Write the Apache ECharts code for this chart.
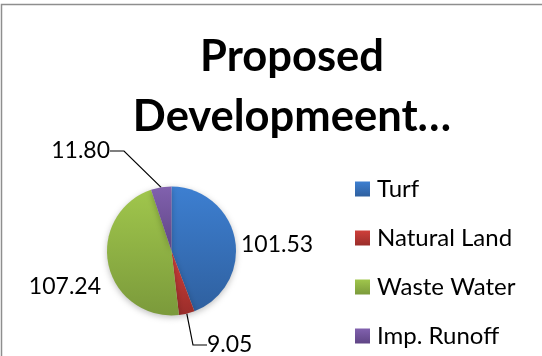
<!DOCTYPE html>
<html>
<head>
<meta charset="utf-8">
<script src="https://cdn.jsdelivr.net/npm/echarts@6/dist/echarts.min.js"></script>
<style>
html,body{margin:0;padding:0;background:#fff;}
#chart{width:542px;height:356px;}
</style>
</head>
<body>
<div id="chart"></div>
<script>
var titleText = "Proposed\nDevelopmeent\u2026";
var categories = ["Turf", "Natural Land", "Waste Water", "Imp. Runoff"];
var values = [101.53, 9.05, 107.24, 11.80];
var valueLabels = ["101.53", "9.05", "107.24", "11.80"];

var colorStops = [
  ["#3d7fd1", "#2f609f"],
  ["#cf3f3a", "#9a2d2a"],
  ["#a0c64c", "#7b9a3b"],
  ["#8161ae", "#5f4585"]
];
function grad(c) {
  return new echarts.graphic.LinearGradient(0, 0, 0, 1, [
    { offset: 0, color: c[0] }, { offset: 1, color: c[1] }
  ]);
}
var labelPos = [
  { x: 241, y: 245, align: "left" },
  { x: 207, y: 345, align: "left" },
  { x: 101, y: 287, align: "right" },
  { x: 110, y: 151, align: "right" }
];
var showLine = [false, true, false, true];

var data = categories.map(function (name, i) {
  return {
    name: name,
    value: values[i],
    itemStyle: { color: grad(colorStops[i]) },
    labelLine: { show: showLine[i] }
  };
});

var chart = echarts.init(document.getElementById("chart"), null, { renderer: "canvas" });
chart.setOption({
  backgroundColor: "#ffffff",
  animation: false,
  graphic: [{
    type: "rect",
    shape: { x: 1.5, y: 4.5, width: 600, height: 400 },
    style: { fill: "none", stroke: "#8e8e8e", lineWidth: 1.5 },
    silent: true
  }],
  title: {
    text: titleText,
    left: 287,
    textAlign: "center",
    top: 22,
    textStyle: {
      fontFamily: "Lato",
      fontWeight: "bold",
      fontSize: 43.5,
      lineHeight: 60,
      color: "#000"
    }
  },
  legend: {
    orient: "vertical",
    left: 350,
    top: 172,
    icon: "rect",
    itemWidth: 15,
    itemHeight: 15,
    itemGap: 25,
    itemStyle: { borderWidth: 0 },
    textStyle: { fontFamily: "Lato", fontSize: 24, color: "#000", padding: [0, 0, 0, 2] },
    data: categories
  },
  series: [{
    type: "pie",
    center: [171.5, 251],
    radius: [0, 64.5],
    startAngle: 90,
    clockwise: true,
    data: data,
    itemStyle: { shadowBlur: 6, shadowColor: "rgba(0,0,0,0.25)", shadowOffsetY: 2 },
    label: {
      show: true,
      position: "outside",
      overflow: "none",
      formatter: function (p) { return valueLabels[p.dataIndex]; },
      fontFamily: "Lato",
      fontSize: 23,
      color: "#000"
    },
    labelLine: {
      show: true,
      length: 20,
      length2: 14,
      lineStyle: { color: "#000", width: 1.2 }
    },
    labelLayout: function (p) {
      var lp = labelPos[p.dataIndex];
      return { x: lp.x, y: lp.y, align: lp.align, verticalAlign: "middle" };
    }
  }]
});
</script>
</body>
</html>
